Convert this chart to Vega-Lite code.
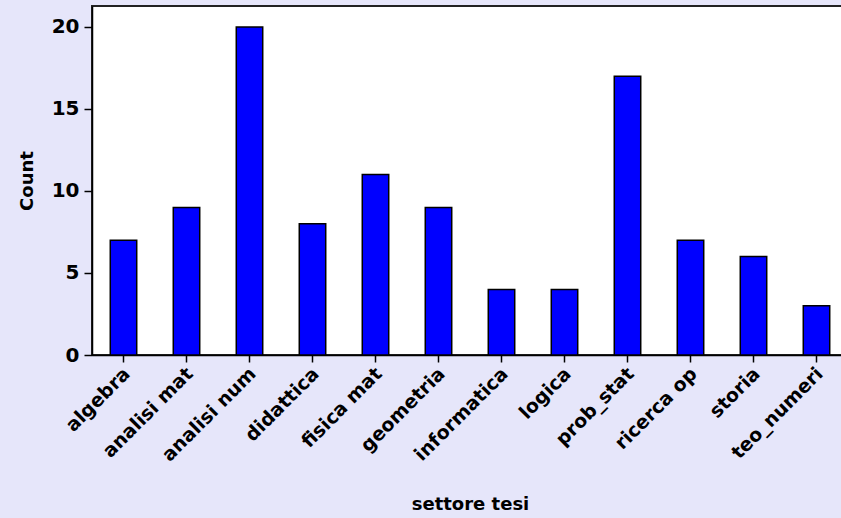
{
  "$schema": "https://vega.github.io/schema/vega-lite/v6.json",
  "autosize": "none",
  "padding": {"left": 92, "top": 6, "right": 0, "bottom": 163},
  "width": 756,
  "height": 349,
  "background": "#E6E6FA",
  "config": {
    "view": {"fill": "white", "stroke": "#222222", "strokeWidth": 2},
    "font": "DejaVu Sans"
  },
  "data": {
    "values": [
      {"settore": "algebra", "count": 7},
      {"settore": "analisi mat", "count": 9},
      {"settore": "analisi num", "count": 20},
      {"settore": "didattica", "count": 8},
      {"settore": "fisica mat", "count": 11},
      {"settore": "geometria", "count": 9},
      {"settore": "informatica", "count": 4},
      {"settore": "logica", "count": 4},
      {"settore": "prob_stat", "count": 17},
      {"settore": "ricerca op", "count": 7},
      {"settore": "storia", "count": 6},
      {"settore": "teo_numeri", "count": 3}
    ]
  },
  "mark": {"type": "bar", "fill": "#0000FF", "stroke": "#000000", "strokeWidth": 1.5},
  "encoding": {
    "x": {
      "field": "settore",
      "type": "nominal",
      "sort": null,
      "scale": {"paddingInner": 0.58, "paddingOuter": 0.29},
      "axis": {
        "title": "settore tesi",
        "titleFont": "DejaVu Sans",
        "titleFontSize": 18,
        "titleFontWeight": "bold",
        "titleColor": "#000000",
        "titleBaseline": "alphabetic",
        "titleY": 154,
        "labelAngle": -45,
        "labelFont": "DejaVu Sans",
        "labelFontSize": 19,
        "labelFontWeight": "bold",
        "labelColor": "#000000",
        "labelPadding": 2,
        "labelOffset": -3,
        "tickSize": 7,
        "tickColor": "#000000",
        "tickWidth": 1.5,
        "domainColor": "#000000",
        "domainWidth": 1.5,
        "grid": false
      }
    },
    "y": {
      "field": "count",
      "type": "quantitative",
      "scale": {"domain": [0, 21.28], "nice": false, "zero": true},
      "axis": {
        "title": "Count",
        "titleFont": "DejaVu Sans",
        "titleFontSize": 18,
        "titleFontWeight": "bold",
        "titleColor": "#000000",
        "titleBaseline": "alphabetic",
        "titleX": -60,
        "values": [0, 5, 10, 15, 20],
        "labelFont": "DejaVu Sans",
        "labelFontSize": 20,
        "labelFontWeight": "bold",
        "labelColor": "#000000",
        "labelPadding": 5,
        "tickSize": 8,
        "tickColor": "#000000",
        "tickWidth": 1.5,
        "domainColor": "#000000",
        "domainWidth": 1.5,
        "grid": false
      }
    }
  }
}
